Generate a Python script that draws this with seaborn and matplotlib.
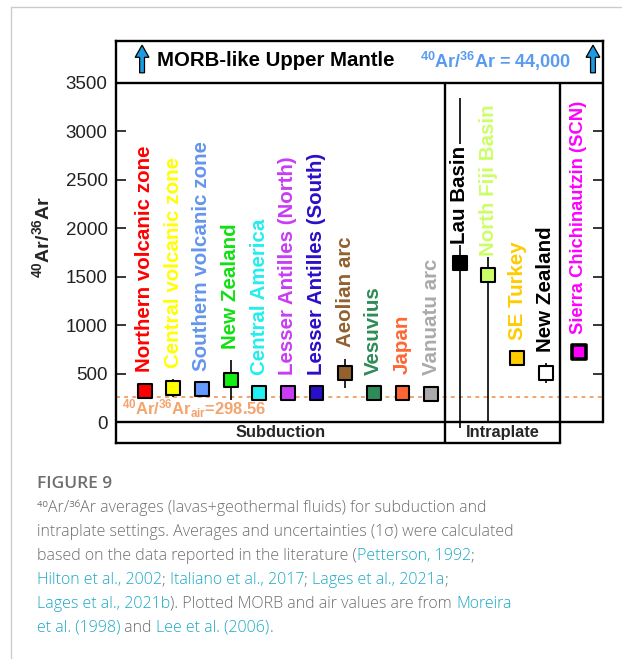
import numpy as np
import pandas as pd
import matplotlib
matplotlib.use("Agg")
import matplotlib.pyplot as plt
from matplotlib.lines import Line2D
import seaborn as sns

# ---------------- data ----------------
sites = ["Northern volcanic zone", "Central volcanic zone", "Southern volcanic zone",
         "New Zealand", "Central America", "Lesser Antilles (North)",
         "Lesser Antilles (South)", "Aeolian arc", "Vesuvius", "Japan", "Vanuatu arc",
         "Lau Basin", "North Fiji Basin", "SE Turkey", "New Zealand",
         "Sierra Chichinautzin (SCN)"]
settings = ["Subduction"] * 11 + ["Intraplate"] * 4 + ["SCN"]
ratio_mean = [323, 350, 340, 430, 300, 300, 300, 505, 300, 302, 290,
              1640, 1515, 660, 505, 720]
ratio_sd = [0, 95, 0, 205, 0, 0, 0, 150, 0, 0, 0,
            1700, 1515, 0, 100, 0]
marker_colors = ["#FF0000", "#FFFF00", "#6699FF", "#11EE11", "#22F0F0", "#C83CF5",
                 "#2A0FC8", "#93602E", "#2E8B57", "#FF6633", "#AAAAAA",
                 "#000000", "#CCFF66", "#FFCC00", "#FFFFFF", "#FF00FF"]
label_colors = ["#FF0000", "#FFFF00", "#6495ED", "#11E011", "#22EEEE", "#C83CF5",
                "#2A0FC8", "#93602E", "#2E8B57", "#FF6633", "#AAAAAA",
                "#000000", "#CCFF66", "#FFCC00", "#000000", "#FF00FF"]
y_ticks = [0, 500, 1000, 1500, 2000, 2500, 3000, 3500]
air_ratio_text = "298.56"
air_line_level = 260
morb_ratio_text = "44,000"
group_names = ["Subduction", "Intraplate"]

# ---------------- style ----------------
sns.set_style("white")
plt.rcParams["font.family"] = ["Liberation Sans", "DejaVu Sans"]
plt.rcParams["mathtext.fontset"] = "custom"
plt.rcParams["mathtext.rm"] = "Liberation Sans"
plt.rcParams["mathtext.bf"] = "Liberation Sans:bold"
plt.rcParams["mathtext.it"] = "Liberation Sans:italic"

W, H = 622, 659
fig = plt.figure(figsize=(W / 100, H / 100), dpi=100)
fig.patch.set_facecolor("white")

ax = fig.add_axes([116 / W, 1 - 443 / H, (603 - 116) / W, (443 - 41) / H])
YMIN, YMAX = -216, 3928
XMIN, XMAX = 0, 17
ax.set_xlim(XMIN, XMAX)
ax.set_ylim(YMIN, YMAX)

xpos = list(range(1, 16)) + [16.15]
df = pd.DataFrame({"key": [f"k{i}" for i in range(len(sites))], "site": sites,
                   "setting": settings, "x": xpos, "mean": ratio_mean, "sd": ratio_sd})
palette = dict(zip(df["key"], marker_colors))

FRAME_LW = 1.7
for s in ["left", "top", "right", "bottom"]:
    ax.spines[s].set_linewidth(FRAME_LW)
    ax.spines[s].set_color("black")
    ax.spines[s].set_visible(True)
ax.spines["right"].set_bounds(0, YMAX)
ax.spines["bottom"].set_bounds(XMIN, 15.5)
ax.plot([XMIN, XMAX], [3500, 3500], color="black", lw=FRAME_LW, zorder=3, solid_capstyle="butt")
ax.plot([XMIN, XMAX], [0, 0], color="black", lw=FRAME_LW, zorder=3, solid_capstyle="butt")
for xs in [11.5, 15.5]:
    ax.plot([xs, xs], [YMIN, 3500], color="black", lw=FRAME_LW, zorder=3, solid_capstyle="butt")

# air line
ax.plot([XMIN, XMAX], [air_line_level, air_line_level], color="#F4A46E", lw=1.4,
        linestyle=(0, (2, 2.2)), zorder=1)
ax.text(0.2, 134, r"$^{\mathbf{40}}$Ar/$^{\mathbf{36}}$Ar$_{\mathbf{air}}$=" + air_ratio_text,
        color="#F4A46E", fontsize=11.9, fontweight="bold", va="center", ha="left", zorder=4)

# error bars
ax.errorbar(df["x"], df["mean"], yerr=df["sd"], fmt="none", ecolor="black",
            elinewidth=1.2, capsize=0, zorder=2)

# markers
sns.scatterplot(data=df, x="x", y="mean", hue="key", palette=palette, marker="s",
                s=100, edgecolor="black", linewidth=1.5, legend=False, ax=ax, zorder=5)
coll = ax.collections[-1]
lws = [1.5] * len(df)
lws[-1] = 2.6
coll.set_linewidths(lws)

# site labels
for i, row in df.iterrows():
    sd = row["sd"]
    if sd < 1000:
        base = row["mean"] + max(190, sd + 115)
        bbox = None
    else:
        base = row["mean"] + 200
        bbox = dict(facecolor="white", edgecolor="none", pad=1.0)
    fs = 13.2 if row["setting"] == "SCN" else 14.8
    ax.text(row["x"], base, row["site"], rotation=90, ha="center", va="bottom",
            color=label_colors[i], fontsize=fs, fontweight="bold", zorder=6, bbox=bbox)

# banner
ax.text(1.43, 3722, "MORB-like Upper Mantle", fontsize=14.7, fontweight="bold",
        color="black", ha="left", va="center")
ax.text(10.6, 3722, r"$^{\mathbf{40}}$Ar/$^{\mathbf{36}}$Ar = " + morb_ratio_text,
        fontsize=13, fontweight="bold", color="#5A9BEF", ha="left", va="center")
for xa in [0.91, 16.65]:
    ax.arrow(xa, 3600, 0, 285, width=0.17, head_width=0.48, head_length=125,
             length_includes_head=True, fc="#1C9BE0", ec="black", lw=0.9, zorder=6)

# group labels
ax.text(5.75, -103, group_names[0], fontsize=11.8, fontweight="bold", ha="center", va="center")
ax.text(13.5, -103, group_names[1], fontsize=11.8, fontweight="bold", ha="center", va="center")

# ticks
ax.set_yticks(y_ticks)
ax.set_xticks([])
ax.tick_params(axis="y", direction="in", length=7, width=1.3, left=True, right=True,
               labelleft=True, labelright=False, labelsize=13.5, labelcolor="#222222", pad=6)
ax.set_xlabel("")
ax.set_ylabel(r"$^{\mathbf{40}}$Ar/$^{\mathbf{36}}$Ar", fontsize=14, fontweight="bold")
ax.yaxis.set_label_coords((53 - 116) / 487, (443 - 237) / 402)

# page border
fig.add_artist(Line2D([10.5 / W, 10.5 / W], [0, 1 - 7 / H], transform=fig.transFigure,
                      color="#CCCCCC", lw=1.0))
fig.add_artist(Line2D([10.5 / W, 1], [1 - 7 / H, 1 - 7 / H], transform=fig.transFigure,
                      color="#CCCCCC", lw=1.0))

# caption
GRAY = "#6D6E71"
LINK = "#1BA8C6"
CAP_FONT = ["Open Sans", "DejaVu Sans"]
fig.text(37 / W, 1 - 488 / H, "FIGURE 9", fontsize=12.5, fontweight="semibold",
         color=GRAY, family=CAP_FONT, ha="left", va="baseline")

cap_lines = [
    [("\u2074\u2070Ar/\u00b3\u2076Ar averages (lavas+geothermal fluids) for subduction and", GRAY)],
    [("intraplate settings. Averages and uncertainties (1\u03c3) were calculated", GRAY)],
    [("based on the data reported in the literature (", GRAY), ("Petterson, 1992", LINK), (";", GRAY)],
    [("Hilton et al., 2002", LINK), ("; ", GRAY), ("Italiano et al., 2017", LINK), ("; ", GRAY),
     ("Lages et al., 2021a", LINK), (";", GRAY)],
    [("Lages et al., 2021b", LINK), ("). Plotted MORB and air values are from ", GRAY), ("Moreira", LINK)],
    [("et al. (1998)", LINK), (" and ", GRAY), ("Lee et al. (2006)", LINK), (".", GRAY)],
]
baselines = [512, 536, 560, 584, 608, 632]
CAP_SIZE = 11.5
CAP_WEIGHT = "light"
renderer = fig.canvas.get_renderer()


def text_width(s):
    t1 = fig.text(0, 0, "|" + s + "|", fontsize=CAP_SIZE, family=CAP_FONT, fontweight=CAP_WEIGHT)
    t2 = fig.text(0, 0, "||", fontsize=CAP_SIZE, family=CAP_FONT, fontweight=CAP_WEIGHT)
    w = t1.get_window_extent(renderer).width - t2.get_window_extent(renderer).width
    t1.remove()
    t2.remove()
    return w


for segs, yb in zip(cap_lines, baselines):
    xcur = 37.0
    for s, c in segs:
        fig.text(xcur / W, 1 - yb / H, s, fontsize=CAP_SIZE, family=CAP_FONT, color=c,
                 fontweight=CAP_WEIGHT, ha="left", va="baseline")
        xcur += text_width(s)

fig.savefig("out.png", dpi=100, facecolor="white")
